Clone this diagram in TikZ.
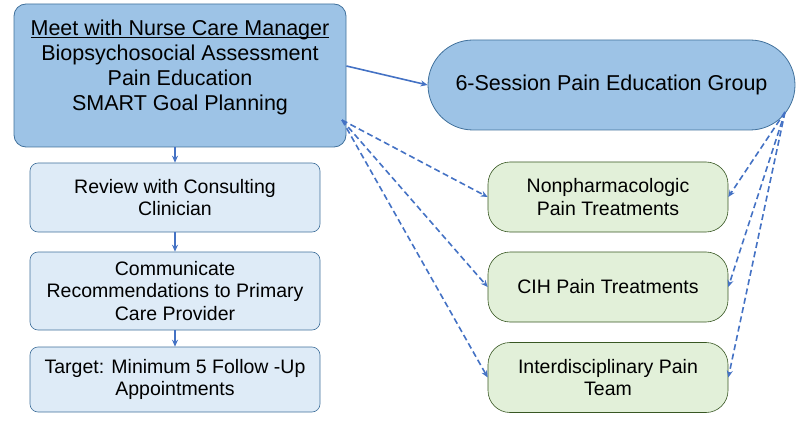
\documentclass[tikz,border=0pt]{standalone}
\usepackage{fontspec}
\setmainfont{Liberation Sans}
\usetikzlibrary{arrows.meta}
\definecolor{mainfill}{HTML}{9DC3E6}
\definecolor{mainline}{HTML}{41719C}
\definecolor{lbfill}{HTML}{DEEBF7}
\definecolor{gfill}{HTML}{E2F0D9}
\definecolor{gline}{HTML}{385723}
\definecolor{arr}{HTML}{4472C4}
\begin{document}
\begin{tikzpicture}[x=1pt,y=-1pt,
  big/.style={draw=mainline,fill=mainfill,line width=0.8pt,font=\fontsize{21.5}{25}\selectfont,align=center,inner sep=0pt},
  lb/.style={draw=mainline,fill=lbfill,line width=0.6pt,rounded corners=8pt,minimum width=290pt,font=\fontsize{19.5}{22.5}\selectfont,align=center,inner sep=0pt},
  gb/.style={draw=gline,fill=gfill,line width=0.6pt,rounded corners=22pt,minimum width=240pt,minimum height=70pt,font=\fontsize{19.5}{22.5}\selectfont,align=center,inner sep=0pt},
  sol/.style={draw=arr,line width=1.6pt,-{Stealth[length=7pt,width=6pt]}},
  dsh/.style={draw=arr,line width=1.6pt,dashed,dash pattern=on 6pt off 3.5pt,-{Stealth[length=7pt,width=6pt]}}]
\useasboundingbox (0,0) rectangle (800,422);
\node[big,rounded corners=12pt,minimum width=332pt,minimum height=143pt] (m) at (180,75.5)
 {\underline{\smash{Meet with Nurse Care Manager}}\\Biopsychosocial Assessment\\Pain Education\\SMART Goal Planning};
\node[big,rounded corners=45pt,minimum width=367pt,minimum height=90pt] (g) at (611.5,85) {6-Session Pain Education Group};
\node[lb,minimum height=69pt] (b1) at (175,197.5) {Review with  Consulting\\Clinician};
\node[lb,minimum height=78pt] (b2) at (175,291) {Communicate\\Recommendations to Primary\\Care Provider};
\node[lb,minimum height=65pt] (b3) at (175,379.5) {Target: Minimum 5 Follow -Up\\Appointments};
\node[gb] (n1) at (608,197) {Nonpharmacologic\\Pain Treatments};
\node[gb] (n2) at (608,287) {CIH Pain Treatments};
\node[gb] (n3) at (608,377.5) {Interdisciplinary Pain\\Team};
\coordinate (mc) at (342,120);
\coordinate (gc) at (785,112);
\draw[sol] (m.east |- 0,66) -- (g.west |- 0,85);
\draw[sol] (m.south -| b1.north) -- (b1.north);
\draw[sol] (b1) -- (b2);
\draw[sol] (b2) -- (b3);
\draw[dsh] (mc) -- (n1.west);
\draw[dsh] (mc) -- (n2.west);
\draw[dsh] (mc) -- (n3.west);
\draw[dsh] (gc) -- (n1.east);
\draw[dsh] (gc) -- (n2.east);
\draw[dsh] (gc) -- (n3.east);
\end{tikzpicture}
\end{document}
